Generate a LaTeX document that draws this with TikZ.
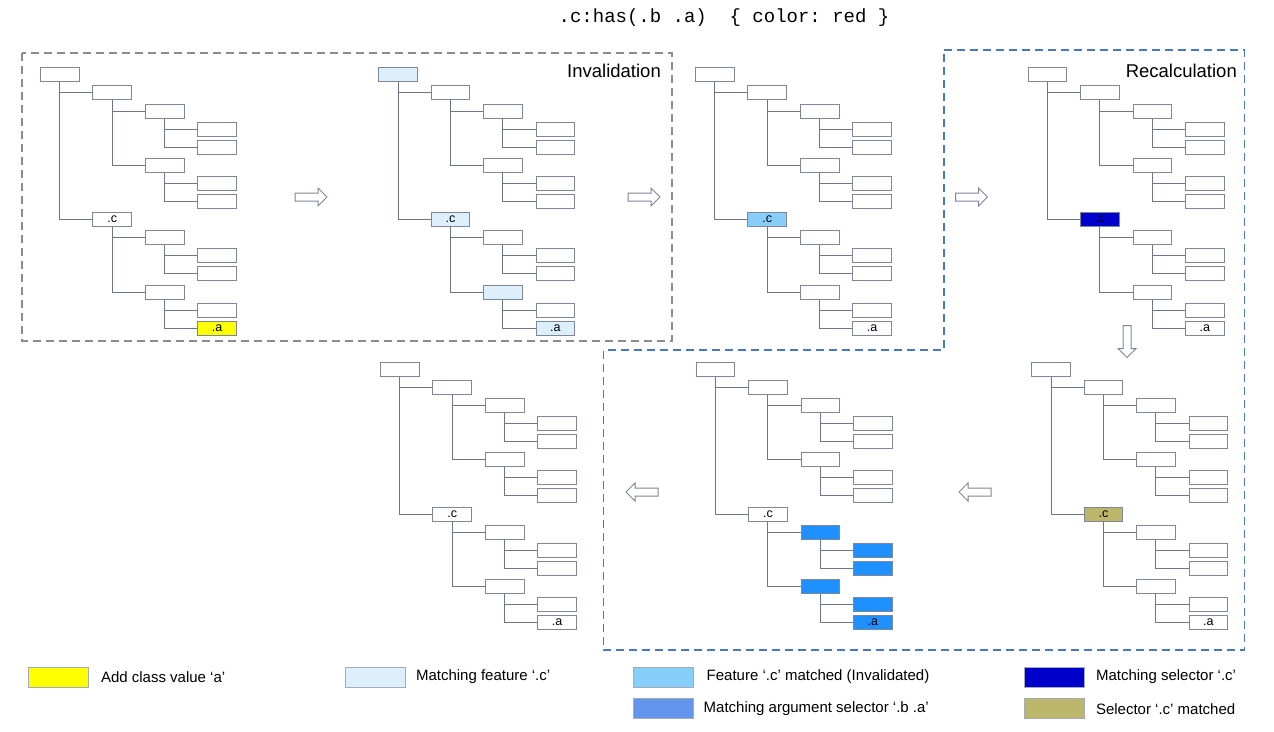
\documentclass[tikz,border=0pt]{standalone}
\usepackage{fontspec}
\setmainfont{Liberation Sans}
\setmonofont{Liberation Mono}
\usepackage{xcolor}
\usetikzlibrary{positioning}
\definecolor{linkgray}{RGB}{108,118,135}
\definecolor{boxgray}{RGB}{125,135,152}
\definecolor{framegray}{RGB}{140,140,140}
\definecolor{frameblue}{RGB}{74,120,184}
\definecolor{addyellow}{RGB}{255,255,0}
\definecolor{featlight}{RGB}{222,239,252}
\definecolor{featmatch}{RGB}{135,206,250}
\definecolor{selblue}{RGB}{0,0,205}
\definecolor{argblue}{RGB}{30,144,255}
\definecolor{argkey}{RGB}{100,149,237}
\definecolor{selolive}{RGB}{189,183,107}
\newcommand{\Step}{52.4}
\newcommand{\Row}{18.1}
% one element tree: name, left, top
\newcommand{\Tree}[3]{%
	\foreach \row/\lev/\txt in {0/0/{},1/1/{},2/2/{},3/3/{},4/3/{},5/2/{},6/3/{},7/3/{},8/1/.c,9/2/{},10/3/{},11/3/{},12/2/{},13/3/{},14/3/.a}
		\node[box, hl\row/.try] (#1-\row) at ({#2+\lev*\Step},{#3+\row*\Row}) {\txt};
	\foreach \pa/\ch in {0/1,0/8,1/2,1/5,2/3,2/4,5/6,5/7,8/9,8/12,9/10,9/11,12/13,12/14}
		\draw[link] (#1-\pa.south) |- (#1-\ch.west);
}
% block arrow: centre x, centre y, angle
\newcommand{\Flow}[3]{%
	\draw[flow, shift={(#1,#2)}, rotate=#3] (-16,-4) -- (7,-4) -- (7,-9) -- (16,0) -- (7,9) -- (7,4) -- (-16,4) -- cycle;
}

\begin{document}
\begin{tikzpicture}[x=1pt,y=-1pt,
	box/.style={draw=boxgray, line width=1pt, fill=white, minimum width=38.7pt, minimum height=14pt, inner sep=0pt, anchor=north west, font=\fontsize{12.5}{12.5}\selectfont},
	link/.style={draw=linkgray, line width=1pt},
	flow/.style={draw=boxgray, fill=white, line width=1pt, line join=miter},
	legbox/.style={draw=boxgray!70, line width=0.8pt, minimum width=60pt, minimum height=20pt, inner sep=0pt, anchor=north west},
	legtext/.style={inner sep=0pt, font=\fontsize{15}{15}\selectfont}]
	\useasboundingbox (0,0) rectangle (1274,731);

	\node[font=\ttfamily\fontsize{19}{19}\selectfont] (title) at (724,18) {.c:has(.b .a)\ \ \{ color: red \}};

	% frames
	\draw[framegray, line width=1.3pt, dash pattern=on 8pt off 5pt] (22,53) rectangle (672,341);
	\draw[frameblue, line width=1.3pt, dash pattern=on 8pt off 5pt] (944,50) -- (1244.5,50) -- (1244.5,650) -- (603.5,650) -- (603.5,350) -- (944,350) -- cycle;
	\node[anchor=base east, inner sep=0pt, font=\fontsize{18.5}{18.5}\selectfont] (inval) at (661,77) {Invalidation};
	\node[anchor=base east, inner sep=0pt, font=\fontsize{18.5}{18.5}\selectfont] (recalc) at (1237,77) {Recalculation};

	% trees
	\begin{scope}[hl14/.style={fill=addyellow}]
		\Tree{A}{40}{67.3}
	\end{scope}
	\begin{scope}[hl0/.style={fill=featlight}, hl8/.style={fill=featlight}, hl12/.style={fill=featlight}, hl14/.style={fill=featlight}]
		\Tree{B}{378.3}{67.3}
	\end{scope}
	\begin{scope}[hl8/.style={fill=featmatch}]
		\Tree{C}{695}{67.3}
	\end{scope}
	\begin{scope}[hl8/.style={fill=selblue}]
		\Tree{D}{1027.7}{67.3}
	\end{scope}
	\begin{scope}[hl8/.style={fill=selolive}]
		\Tree{E}{1031.3}{361.7}
	\end{scope}
	\begin{scope}[hl9/.style={fill=argblue}, hl10/.style={fill=argblue}, hl11/.style={fill=argblue}, hl12/.style={fill=argblue}, hl13/.style={fill=argblue}, hl14/.style={fill=argblue}]
		\Tree{F}{695.7}{361.7}
	\end{scope}
	\Tree{G}{380}{361.7}

	% arrows
	\Flow{311}{197}{0}
	\Flow{644}{197}{0}
	\Flow{971.5}{197}{0}
	\Flow{1127}{341.5}{-90}
	\Flow{975}{492}{180}
	\Flow{642}{492}{180}

	% legend
	\node[legbox, fill=addyellow] (K1) at (28,666.7) {};
	\node[legtext, right=12pt of K1] (T1) {Add class value ‘a’};
	\node[legbox, fill=featlight] (K2) at (345,666.7) {};
	\node[legtext, right=10pt of K2] (T2) {Matching feature ‘.c’};
	\node[legbox, fill=featmatch] (K3) at (632.7,666.7) {};
	\node[legtext, right=13pt of K3] (T3) {Feature ‘.c’ matched (Invalidated)};
	\node[legbox, fill=argkey] (K4) at (632.7,698.3) {};
	\node[legtext, right=10pt of K4] (T4) {Matching argument selector ‘.b .a’};
	\node[legbox, fill=selblue] (K5) at (1024,666.7) {};
	\node[legtext, right=11pt of K5] (T5) {Matching selector ‘.c’};
	\node[legbox, fill=selolive] (K6) at (1024,698.3) {};
	\node[legtext, right=11pt of K6] (T6) {Selector ‘.c’ matched};
\end{tikzpicture}
\end{document}
